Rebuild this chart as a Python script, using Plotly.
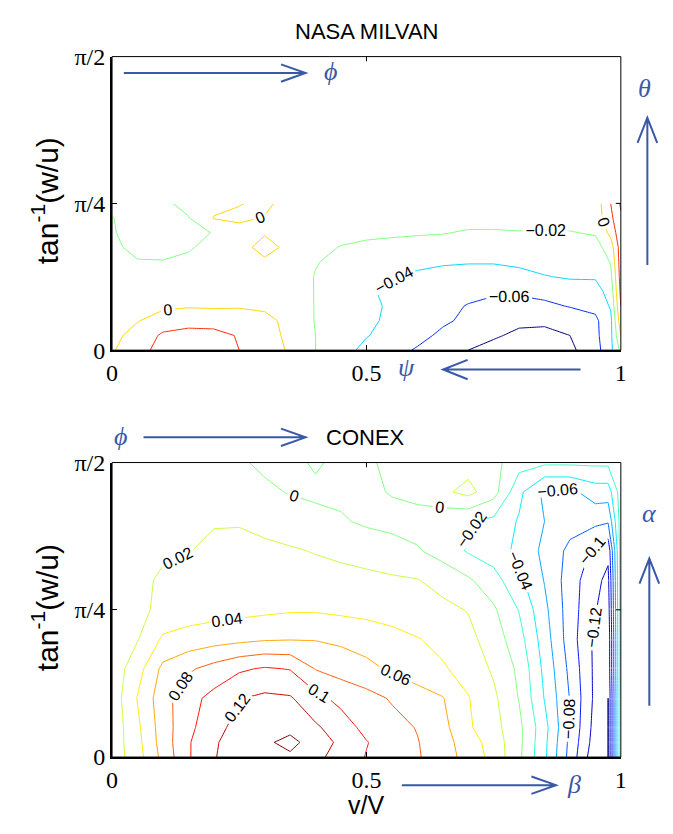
import plotly.graph_objects as go

W, H = 673, 834

# ---------------- NASA MILVAN (upper panel) ----------------
X_TOP = [0.00, 0.05, 0.10, 0.15, 0.20, 0.25, 0.30, 0.35, 0.40, 0.45, 0.50,
         0.55, 0.60, 0.65, 0.70, 0.75, 0.80, 0.85, 0.90, 0.95, 0.98, 1.00]
Y_TOP = [0.0000, 0.0785, 0.1571, 0.2356, 0.3142, 0.3927, 0.4712, 0.5498,
         0.6283, 0.7069, 0.7854]
Z_TOP = [
    [-0.002, 0.014, 0.026, 0.030, 0.028, 0.020, 0.008, -0.002, -0.020, -0.033, -0.045,
     -0.053, -0.062, -0.070, -0.080, -0.088, -0.092, -0.090, -0.084, -0.068, -0.045, -0.015],
    [-0.006, 0.008, 0.023, 0.024, 0.024, 0.019, 0.007, -0.004, -0.020, -0.029, -0.039,
     -0.047, -0.054, -0.064, -0.071, -0.077, -0.085, -0.086, -0.080, -0.065, -0.045, 0.000],
    [-0.010, -0.001, 0.010, 0.016, 0.015, 0.012, 0.005, -0.005, -0.021, -0.028, -0.036,
     -0.044, -0.051, -0.057, -0.064, -0.070, -0.075, -0.076, -0.072, -0.064, -0.045, 0.012],
    [-0.013, -0.009, -0.004, -0.002, -0.003, -0.002, -0.003, -0.007, -0.021, -0.028, -0.035,
     -0.043, -0.049, -0.055, -0.061, -0.066, -0.067, -0.064, -0.059, -0.055, -0.038, 0.020],
    [-0.015, -0.013, -0.010, -0.008, -0.007, -0.006, -0.006, -0.008, -0.021, -0.029, -0.038,
     -0.043, -0.048, -0.052, -0.055, -0.057, -0.057, -0.054, -0.050, -0.048, -0.032, 0.025],
    [-0.016, -0.017, -0.016, -0.013, -0.009, -0.006, -0.004, -0.009, -0.021, -0.028, -0.034,
     -0.039, -0.043, -0.046, -0.047, -0.047, -0.045, -0.041, -0.038, -0.038, -0.025, 0.028],
    [-0.017, -0.019, -0.019, -0.016, -0.010, -0.004, -0.002, -0.009, -0.019, -0.025, -0.029,
     -0.033, -0.036, -0.038, -0.039, -0.039, -0.037, -0.033, -0.030, -0.033, -0.019, 0.030],
    [-0.017, -0.024, -0.026, -0.022, -0.014, -0.004, 0.004, -0.003, -0.014, -0.021, -0.024,
     -0.026, -0.028, -0.029, -0.030, -0.030, -0.029, -0.027, -0.026, -0.028, -0.010, 0.030],
    [-0.018, -0.030, -0.030, -0.026, -0.019, -0.008, -0.001, -0.004, -0.010, -0.013, -0.016,
     -0.017, -0.018, -0.019, -0.022, -0.022, -0.021, -0.021, -0.021, -0.018, 0.005, 0.035],
    [-0.019, -0.032, -0.030, -0.021, 0.001, 0.004, -0.001, -0.006, -0.009, -0.010, -0.012,
     -0.012, -0.012, -0.013, -0.013, -0.013, -0.013, -0.013, -0.013, -0.012, 0.015, 0.038],
    [-0.030, -0.032, -0.024, -0.014, -0.006, -0.001, 0.004, -0.007, -0.008, -0.009, -0.010,
     -0.010, -0.011, -0.011, -0.011, -0.011, -0.012, -0.012, -0.012, -0.012, 0.020, 0.042],
]

# ---------------- CONEX (lower panel) ----------------
X_BOT = [0.00, 0.05, 0.10, 0.15, 0.20, 0.25, 0.30, 0.35, 0.40, 0.45, 0.50,
         0.55, 0.60, 0.65, 0.70, 0.75, 0.80, 0.85, 0.90, 0.95, 0.975, 1.00]
Y_BOT = [0.0000, 0.0785, 0.1571, 0.3142, 0.4712, 0.6283, 0.7854, 0.9425,
         1.0996, 1.2566, 1.4137, 1.5708]
Z_BOT = [
    [0.008, 0.032, 0.066, 0.098, 0.119, 0.128, 0.136, 0.137, 0.125, 0.112, 0.099,
     0.091, 0.082, 0.069, 0.053, 0.033, 0.004, -0.036, -0.087, -0.135, -0.140, -0.010],
    [0.008, 0.034, 0.069, 0.098, 0.118, 0.128, 0.137, 0.145, 0.132, 0.115, 0.101,
     0.090, 0.081, 0.068, 0.050, 0.031, 0.005, -0.035, -0.085, -0.130, -0.140, -0.010],
    [0.007, 0.036, 0.070, 0.095, 0.113, 0.127, 0.134, 0.135, 0.123, 0.110, 0.094,
     0.087, 0.079, 0.066, 0.043, 0.027, 0.005, -0.033, -0.082, -0.128, -0.140, -0.010],
    [0.008, 0.041, 0.072, 0.093, 0.106, 0.119, 0.124, 0.122, 0.106, 0.094, 0.087,
     0.078, 0.069, 0.061, 0.041, 0.024, -0.001, -0.041, -0.081, -0.125, -0.140, -0.010],
    [0.008, 0.032, 0.065, 0.077, 0.087, 0.097, 0.102, 0.099, 0.079, 0.072, 0.065,
     0.057, 0.049, 0.042, 0.033, 0.017, -0.004, -0.045, -0.085, -0.125, -0.135, -0.010],
    [0.008, 0.019, 0.043, 0.048, 0.052, 0.055, 0.058, 0.059, 0.059, 0.056, 0.052,
     0.047, 0.041, 0.035, 0.026, 0.010, -0.012, -0.050, -0.090, -0.125, -0.135, -0.010],
    [0.008, 0.014, 0.026, 0.030, 0.032, 0.034, 0.036, 0.038, 0.038, 0.036, 0.034,
     0.031, 0.028, 0.025, 0.019, 0.003, -0.021, -0.055, -0.090, -0.119, -0.130, -0.010],
    [0.008, 0.015, 0.023, 0.025, 0.027, 0.028, 0.028, 0.028, 0.027, 0.026, 0.025,
     0.023, 0.021, 0.013, 0.003, -0.012, -0.035, -0.061, -0.090, -0.115, -0.125, -0.010],
    [0.009, 0.013, 0.017, 0.0195, 0.023, 0.024, 0.023, 0.022, 0.019, 0.016, 0.012,
     0.007, 0.002, -0.008, -0.022, -0.030, -0.045, -0.065, -0.085, -0.105, -0.115, -0.010],
    [0.010, 0.014, 0.017, 0.018, 0.019, 0.019, 0.016, 0.010, 0.005, 0.002, -0.003,
     -0.005, -0.008, -0.014, -0.019, -0.025, -0.042, -0.060, -0.072, -0.075, -0.078, -0.010],
    [0.010, 0.011, 0.012, 0.012, 0.010, 0.007, 0.003, -0.001, -0.003, -0.004, -0.003,
     0.001, 0.006, 0.016, 0.026, 0.008, -0.035, -0.065, -0.065, -0.050, -0.050, -0.010],
    [0.009, 0.009, 0.008, 0.007, 0.005, 0.002, -0.003, -0.004, 0.002, -0.004, -0.002,
     0.003, 0.006, 0.010, 0.012, 0.006, -0.012, -0.016, -0.016, -0.016, -0.016, -0.010],
]

X_TICKS = [0, 0.5, 1]
X_TICKTEXT = ["0", "0.5", "1"]
Y_TICKS = [0, 0.7854, 1.5708]
Y_TICKTEXT = ["0", "\u03c0/4", "\u03c0/2"]

JET = [[0.0, "rgb(0,0,128)"], [0.125, "rgb(0,0,255)"], [0.375, "rgb(0,255,255)"],
       [0.625, "rgb(255,255,0)"], [0.875, "rgb(255,0,0)"], [1.0, "rgb(128,0,0)"]]

SANS = "Liberation Sans, Arial"
SERIF = "Liberation Serif, Times New Roman"
LABEL_FONT = dict(family=SANS, size=16, color="black")


def px(x):
    return x / W


def py(y):
    return 1 - y / H


fig = go.Figure()

fig.add_trace(go.Contour(
    x=X_TOP, y=Y_TOP, z=Z_TOP, xaxis="x", yaxis="y",
    colorscale=JET, zauto=False, zmin=-0.08, zmax=0.04, showscale=False,
    contours=dict(coloring="lines", start=-0.08, end=0.04, size=0.02,
                  showlabels=True, labelfont=LABEL_FONT, labelformat=".2~f"),
    line=dict(width=1, smoothing=0), hoverinfo="skip",
))
fig.add_trace(go.Contour(
    x=X_BOT, y=Y_BOT, z=Z_BOT, xaxis="x2", yaxis="y2",
    colorscale=JET, zauto=False, zmin=-0.14, zmax=0.14, showscale=False,
    contours=dict(coloring="lines", start=-0.14, end=0.14, size=0.02,
                  showlabels=True, labelfont=LABEL_FONT, labelformat=".2~f"),
    line=dict(width=1, smoothing=0), hoverinfo="skip",
))

XDOM = [px(108), px(626)]
TOP_DOM = [py(348), py(45)]
BOT_DOM = [py(768), py(464)]

axis_common = dict(showgrid=False, zeroline=False, showline=True, linewidth=2,
                   linecolor="black", ticks="inside", ticklen=5, tickwidth=1,
                   tickcolor="black",
                   tickfont=dict(family=SERIF, size=24, color="black"))

fig.update_layout(
    width=W, height=H, margin=dict(l=0, r=0, t=0, b=0),
    paper_bgcolor="white", plot_bgcolor="white", showlegend=False,
    xaxis=dict(domain=XDOM, range=[0, 1], tickvals=X_TICKS, ticktext=X_TICKTEXT,
               anchor="y", **axis_common),
    yaxis=dict(domain=TOP_DOM, range=[0, 1.5708], tickvals=Y_TICKS,
               ticktext=Y_TICKTEXT, anchor="x", **axis_common),
    xaxis2=dict(domain=XDOM, range=[0, 1], tickvals=X_TICKS, ticktext=X_TICKTEXT,
                anchor="y2", **axis_common),
    yaxis2=dict(domain=BOT_DOM, range=[0, 1.5708], tickvals=Y_TICKS,
                ticktext=Y_TICKTEXT, anchor="x2", **axis_common),
)

shapes = []
# thin top/right frame edges and mirrored ticks
for xr, yr in (("x", "y"), ("x2", "y2")):
    shapes.append(dict(type="rect", xref=xr + " domain", yref=yr + " domain",
                       x0=0, x1=1, y0=0, y1=1, line=dict(color="black", width=1)))
    shapes.append(dict(type="line", xref=xr, yref=yr + " domain", x0=0.5, x1=0.5,
                       y0=1, y1=0.984, line=dict(color="black", width=1)))
    shapes.append(dict(type="line", xref=xr + " domain", yref=yr, x0=1, x1=0.99,
                       y0=0.7854, y1=0.7854, line=dict(color="black", width=1)))

BLUE = "#3a58a8"


def arrow(x0, y0, x1, y1, hx1, hy1, hx2, hy2):
    path = (f"M {px(x0)},{py(y0)} L {px(x1)},{py(y1)} "
            f"M {px(hx1)},{py(hy1)} L {px(x1)},{py(y1)} L {px(hx2)},{py(hy2)}")
    shapes.append(dict(type="path", xref="paper", yref="paper", path=path,
                       line=dict(color=BLUE, width=2)))


arrow(120, 62, 305, 62, 280, 53, 280, 71)      # phi, upper panel
arrow(653, 260, 653, 108, 643, 134, 663, 134)  # theta
arrow(585, 368, 445, 368, 470, 358, 470, 378)  # psi
arrow(140, 438, 305, 438, 280, 429, 280, 447)  # phi, lower panel
arrow(655, 715, 655, 563, 645, 589, 665, 589)  # alpha
arrow(403, 797, 560, 797, 535, 788, 535, 806)  # beta

fig.update_layout(shapes=shapes)

annotations = []


def text(x, y, s, size, family=SANS, color="black", angle=0):
    annotations.append(dict(x=px(x), y=py(y), xref="paper", yref="paper", text=s,
                            showarrow=False, xanchor="center", yanchor="middle",
                            textangle=angle,
                            font=dict(family=family, size=size, color=color)))


text(367, 19, "NASA MILVAN", 22)
text(366, 438, "CONEX", 22)
text(40, 194, "tan<sup>-1</sup>(w/u)", 30, angle=-90)
text(40, 614, "tan<sup>-1</sup>(w/u)", 30, angle=-90)
text(367, 818, "v/V", 25)

text(330, 60, "<i>\u03d5</i>", 26, SERIF, BLUE)
text(650, 78, "<i>\u03b8</i>", 26, SERIF, BLUE)
text(408, 366, "<i>\u03c8</i>", 26, SERIF, BLUE)
text(117, 437, "<i>\u03d5</i>", 26, SERIF, BLUE)
text(655, 517, "<i>\u03b1</i>", 26, SERIF, BLUE)
text(578, 796, "<i>\u03b2</i>", 26, SERIF, BLUE)

fig.update_layout(annotations=annotations)

fig.write_html("out.html")
